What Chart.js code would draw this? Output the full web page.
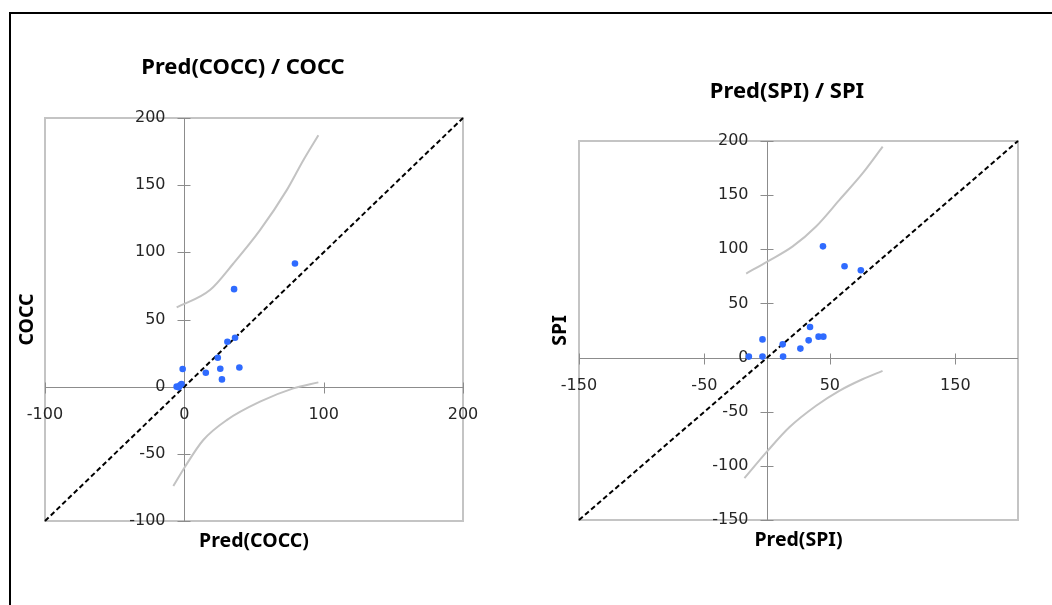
<!DOCTYPE html>
<html>
<head>
<meta charset="utf-8">
<script src="https://cdn.jsdelivr.net/npm/chart.js@4.4.0/dist/chart.umd.min.js"></script>
<style>
  html, body { margin: 0; padding: 0; background: #fff; overflow: hidden; }
  #frame { position: absolute; left: 9px; top: 12px; width: 1100px; height: 700px; border: 2px solid #000; }
  .box { position: absolute; top: 0; width: 526px; height: 605px; }
</style>
</head>
<body>
<div id="frame"></div>
<div class="box" style="left:0"><canvas id="coccChart"></canvas></div>
<div class="box" style="left:526px"><canvas id="spiChart"></canvas></div>
<script>
// --- COCC data ---
const coccPred = [35.7, 79.4, 30.9, 36.4, 24, -1.2, 15.4, 25.8, 39.5, 27, -5.5, -3, -2, -4];
const coccObs  = [72.6, 91.7, 33.4, 36.4, 21.5, 13.1, 10.4, 13.3, 14.3, 5.4, 0, 1, 2, -0.5];
const coccUpperX = [-5.5, 18.4, 35.2, 54.3, 73.5, 85.4, 96.2];
const coccUpperY = [59, 71.9, 91.7, 116.5, 146.3, 168.6, 187.2];
const coccLowerX = [-7.9, 0.5, 13.6, 30.4, 54.3, 78.2, 96.2];
const coccLowerY = [-74, -59.6, -39.7, -24.9, -11.2, -1.3, 3.2];
const coccDiag = [-100, 200];
const coccXTicks = [-100, 0, 100, 200];
const coccYTicks = [-100, -50, 0, 50, 100, 150, 200];

// --- SPI data ---
const spiPred = [34.2, -3.7, 12.4, 33.1, 41, 44.8, 26.5, -14.6, -3.7, 12.7, 44.5, 61.7, 74.7];
const spiObs  = [28.2, 16.8, 12.2, 15.9, 19.3, 19.3, 8.3, 0.9, 0.9, 0.9, 102.7, 84.3, 80.6];
const spiUpperX = [-16.7, 0.5, 20.4, 39, 57.7, 76.2, 92.1];
const spiUpperY = [77.6, 88.9, 102.7, 121.1, 145.7, 170.3, 194.8];
const spiLowerX = [-18.1, 0.5, 17.7, 39, 57.5, 76, 92];
const spiLowerY = [-111.4, -86, -64.4, -44.5, -30.7, -20, -12.3];
const spiDiag = [-150, 200];
const spiXTicks = [-150, -50, 50, 150];
const spiYTicks = [-150, -100, -50, 0, 50, 100, 150, 200];

const pairs = (xs, ys) => xs.map((v, i) => ({ x: v, y: ys[i] }));

// draws the plot frame, axes crossing at zero, tick marks, labels and titles
const excelAxes = {
  id: 'excelAxes',
  beforeDatasetsDraw(chart, args, o) {
    const { ctx, chartArea: a, scales: { x, y } } = chart;
    const x0 = Math.round(x.getPixelForValue(0)) + 0.5;
    const y0 = Math.round(y.getPixelForValue(0)) + 0.5;
    ctx.save();
    ctx.strokeStyle = '#c4c4c4';
    ctx.lineWidth = 2;
    ctx.strokeRect(a.left, a.top, a.right - a.left, a.bottom - a.top);

    ctx.strokeStyle = '#8c8c8c';
    ctx.lineWidth = 1;
    ctx.beginPath();
    ctx.moveTo(a.left, y0); ctx.lineTo(a.right, y0);
    ctx.moveTo(x0, a.top); ctx.lineTo(x0, a.bottom);
    o.xTicks.forEach(v => {
      const px = Math.round(x.getPixelForValue(v)) + 0.5;
      ctx.moveTo(px, y0 - 5); ctx.lineTo(px, y0 + 6);
    });
    o.yTicks.forEach(v => {
      const py = Math.round(y.getPixelForValue(v)) + 0.5;
      ctx.moveTo(x0 - 7, py); ctx.lineTo(x0 + 6, py);
    });
    ctx.stroke();

    ctx.fillStyle = '#262626';
    ctx.font = '16px "DejaVu Sans"';
    ctx.textBaseline = 'middle';
    ctx.textAlign = 'center';
    o.xTicks.forEach(v => ctx.fillText(String(v), x.getPixelForValue(v), y0 + 27));
    ctx.textAlign = 'right';
    o.yTicks.forEach(v => ctx.fillText(String(v), x0 - 19, y.getPixelForValue(v)));
    ctx.restore();
  },
  afterDraw(chart, args, o) {
    const { ctx, chartArea: a } = chart;
    ctx.save();
    ctx.fillStyle = '#000';
    ctx.textAlign = 'center';
    ctx.textBaseline = 'middle';
    ctx.font = 'bold 22px "Noto Sans"';
    ctx.fillText(o.title, o.titleX, o.titleY);
    ctx.font = 'bold 19.5px "Noto Sans"';
    ctx.fillText(o.xTitle, (a.left + a.right) / 2, a.bottom + 20);
    ctx.translate(o.yTitleX, (a.top + a.bottom) / 2);
    ctx.rotate(-Math.PI / 2);
    ctx.fillText(o.yTitle, 0, 0);
    ctx.restore();
  }
};

function makeChart(id, d) {
  return new Chart(document.getElementById(id), {
    type: 'scatter',
    data: {
      datasets: [
        { data: pairs(d.pred, d.obs), backgroundColor: '#2f6bff', borderWidth: 0, pointRadius: 3.3 },
        { data: pairs(d.upX, d.upY), showLine: true, pointRadius: 0, borderColor: '#c3c3c3', borderWidth: 2, cubicInterpolationMode: 'monotone', clip: false },
        { data: pairs(d.loX, d.loY), showLine: true, pointRadius: 0, borderColor: '#c3c3c3', borderWidth: 2, cubicInterpolationMode: 'monotone', clip: false },
        { data: pairs(d.diag, d.diag), showLine: true, pointRadius: 0, borderColor: '#000', borderWidth: 2, borderDash: [5, 3], clip: false }
      ]
    },
    options: {
      responsive: true,
      maintainAspectRatio: false,
      animation: false,
      layout: { padding: d.pad },
      plugins: {
        legend: { display: false },
        tooltip: { enabled: false },
        excelAxes: d.axes
      },
      scales: {
        x: { type: 'linear', min: d.xMin, max: d.xMax, display: false },
        y: { type: 'linear', min: d.yMin, max: d.yMax, display: false }
      }
    },
    plugins: [excelAxes]
  });
}

makeChart('coccChart', {
  pred: coccPred, obs: coccObs,
  upX: coccUpperX, upY: coccUpperY, loX: coccLowerX, loY: coccLowerY,
  diag: coccDiag, xMin: -100, xMax: 200, yMin: -100, yMax: 200,
  pad: { left: 45, top: 118, right: 63, bottom: 84 },
  axes: { xTicks: coccXTicks, yTicks: coccYTicks, title: 'Pred(COCC) / COCC', titleX: 243, titleY: 68,
          xTitle: 'Pred(COCC)', yTitle: 'COCC', yTitleX: 27 }
});

makeChart('spiChart', {
  pred: spiPred, obs: spiObs,
  upX: spiUpperX, upY: spiUpperY, loX: spiLowerX, loY: spiLowerY,
  diag: spiDiag, xMin: -150, xMax: 200, yMin: -150, yMax: 200,
  pad: { left: 53, top: 141, right: 34, bottom: 85 },
  axes: { xTicks: spiXTicks, yTicks: spiYTicks, title: 'Pred(SPI) / SPI', titleX: 261, titleY: 92,
          xTitle: 'Pred(SPI)', yTitle: 'SPI', yTitleX: 34 }
});
</script>
</body>
</html>
